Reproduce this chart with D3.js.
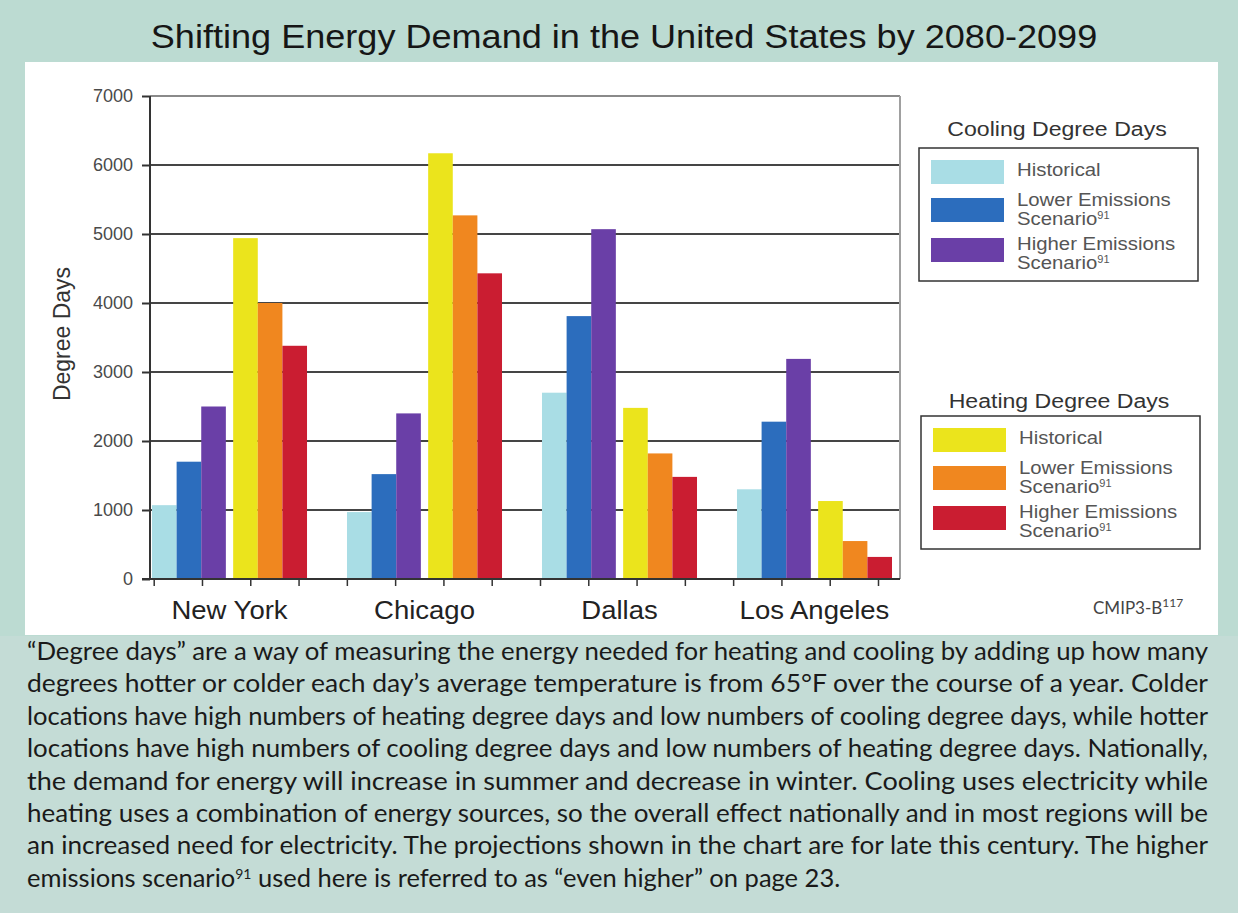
<!DOCTYPE html>
<html>
<head>
<meta charset="utf-8">
<script src="https://cdn.jsdelivr.net/npm/d3@7"></script>
<style>
  body { margin: 0; background: #bcdbd2; }
  svg { display: block; }
</style>
</head>
<body>
<div id="chart"></div>
<script>
var cities = ['New York', 'Chicago', 'Dallas', 'Los Angeles'];
var coolHistorical = [1070, 970, 2700, 1300];
var coolLower = [1700, 1520, 3810, 2280];
var coolHigher = [2500, 2400, 5070, 3190];
var heatHistorical = [4940, 6170, 2480, 1130];
var heatLower = [4000, 5270, 1820, 550];
var heatHigher = [3380, 4430, 1480, 320];
var yTicks = [0, 1000, 2000, 3000, 4000, 5000, 6000, 7000];

var scenarios = ['historical', 'lower', 'higher'];
var scenarioLabels = [['Historical'], ['Lower Emissions', 'Scenario^91'], ['Higher Emissions', 'Scenario^91']];
var coolColors = ['#a9dde5', '#2c6dbd', '#6a3fa7'];
var heatColors = ['#ebe41c', '#f0871f', '#ca1d31'];

var captionLines = [
  '\u201cDegree days\u201d are a way of measuring the energy needed for heating and cooling by adding up how many',
  'degrees hotter or colder each day\u2019s average temperature is from 65\u00b0F over the course of a year. Colder',
  'locations have high numbers of heating degree days and low numbers of cooling degree days, while hotter',
  'locations have high numbers of cooling degree days and low numbers of heating degree days. Nationally,',
  'the demand for energy will increase in summer and decrease in winter. Cooling uses electricity while',
  'heating uses a combination of energy sources, so the overall effect nationally and in most regions will be',
  'an increased need for electricity. The projections shown in the chart are for late this century. The higher',
  'emissions scenario^91 used here is referred to as \u201ceven higher\u201d on page 23.'
];

var width = 1238, height = 913;
var svg = d3.select('#chart').append('svg')
  .attr('width', width)
  .attr('height', height);

// backgrounds
svg.append('rect').attr('x', 0).attr('y', 0).attr('width', width).attr('height', height).attr('fill', '#bcdbd2');
svg.append('rect').attr('x', 0).attr('y', 636).attr('width', width).attr('height', height - 636).attr('fill', '#c4dcd6');
svg.append('rect').attr('x', 25).attr('y', 62).attr('width', 1193).attr('height', 573).attr('fill', '#ffffff');

// split "text^sup" into tspans
function richText(sel, str, supSize) {
  str.split(/(\^\d+)/).forEach(function(part) {
    if (!part) return;
    if (part[0] === '^') {
      sel.append('tspan').attr('baseline-shift', 'super').attr('font-size', supSize).text(part.slice(1));
    } else {
      sel.append('tspan').text(part);
    }
  });
}

// text slightly wider than tall, like the scanned figure
function stretched(parent, x, y) {
  return parent.append('text').attr('transform', 'translate(' + x + ',' + y + ') scale(1.1,1)');
}

stretched(svg, 624, 48)
  .attr('text-anchor', 'middle')
  .attr('font-family', 'Liberation Sans, Arial, sans-serif')
  .attr('font-size', 32.8)
  .attr('fill', '#161616')
  .text('Shifting Energy Demand in the United States by 2080-2099');

var y = d3.scaleLinear().domain([0, 7000]).range([579, 96]);
var x0 = d3.scaleBand().domain(cities).range([152, 892]).paddingInner(0.205);
var x1 = d3.scaleBand().domain(['cooling', 'heating']).range([0, x0.bandwidth()]).paddingInner(0.09);
var x2 = d3.scaleBand().domain(scenarios).range([0, x1.bandwidth()]);
var plotLeft = 150, plotRight = 900;

// gridlines
svg.append('g').selectAll('line').data(yTicks.filter(function(d) { return d > 0; }))
  .enter().append('line')
  .attr('x1', plotLeft).attr('x2', plotRight)
  .attr('y1', function(d) { return y(d); })
  .attr('y2', function(d) { return y(d); })
  .attr('stroke', function(d) { return d === 7000 ? '#8a8a8a' : '#454545'; })
  .attr('stroke-width', 2);

svg.append('line')
  .attr('x1', plotRight).attr('x2', plotRight)
  .attr('y1', y(7000)).attr('y2', y(0))
  .attr('stroke', '#a0a0a0').attr('stroke-width', 2);

// bars
var rows = cities.map(function(c, i) {
  return {
    city: c,
    cooling: [coolHistorical[i], coolLower[i], coolHigher[i]],
    heating: [heatHistorical[i], heatLower[i], heatHigher[i]]
  };
});

var groups = svg.append('g').selectAll('g').data(rows)
  .enter().append('g')
  .attr('transform', function(d) { return 'translate(' + x0(d.city) + ',0)'; });

[['cooling', coolColors], ['heating', heatColors]].forEach(function(kind) {
  groups.append('g')
    .attr('transform', 'translate(' + x1(kind[0]) + ',0)')
    .selectAll('rect').data(function(d) { return d[kind[0]]; })
    .enter().append('rect')
    .attr('x', function(d, i) { return x2(scenarios[i]); })
    .attr('width', x2.bandwidth())
    .attr('y', function(d) { return y(d); })
    .attr('height', function(d) { return y(0) - y(d); })
    .attr('fill', function(d, i) { return kind[1][i]; });
});

// y axis
var yAxis = svg.append('g')
  .attr('transform', 'translate(' + plotLeft + ',0)')
  .call(d3.axisLeft(y).tickValues(yTicks).tickFormat(d3.format('d')).tickSize(8).tickPadding(9));
yAxis.select('.domain').remove();
yAxis.selectAll('.tick line').attr('stroke', '#333').attr('stroke-width', 2);
yAxis.selectAll('.tick text')
  .attr('font-family', 'Liberation Sans, Arial, sans-serif')
  .attr('font-size', 18)
  .attr('fill', '#4a4a4a');
svg.append('line')
  .attr('x1', plotLeft).attr('x2', plotLeft)
  .attr('y1', y(7000)).attr('y2', y(0) + 1)
  .attr('stroke', '#333').attr('stroke-width', 2);

// x axis with minor ticks
var tickScale = d3.scaleLinear().domain([0, 15]).range([153.7, 878]);
var xAxis = svg.append('g')
  .attr('transform', 'translate(0,' + y(0) + ')')
  .call(d3.axisBottom(tickScale).tickValues(d3.range(16)).tickSize(7).tickFormat(''));
xAxis.select('.domain').remove();
xAxis.selectAll('.tick line').attr('stroke', '#333').attr('stroke-width', 1.5);
svg.append('line')
  .attr('x1', plotLeft - 8).attr('x2', plotRight)
  .attr('y1', y(0)).attr('y2', y(0))
  .attr('stroke', '#333').attr('stroke-width', 2);

cities.forEach(function(c) {
  stretched(svg, x0(c) + x0.bandwidth() / 2, 619)
    .attr('text-anchor', 'middle')
    .attr('font-family', 'Liberation Sans, Arial, sans-serif')
    .attr('font-size', 25)
    .attr('fill', '#222')
    .text(c);
});

svg.append('text')
  .attr('transform', 'translate(70,334) rotate(-90)')
  .attr('text-anchor', 'middle')
  .attr('font-family', 'Liberation Sans, Arial, sans-serif')
  .attr('font-size', 23)
  .attr('fill', '#333')
  .text('Degree Days');

// legends
function legend(title, colors, left, top, titleGap) {
  var g = svg.append('g');
  stretched(g, left + 138, top - titleGap)
    .attr('text-anchor', 'middle')
    .attr('font-family', 'Liberation Sans, Arial, sans-serif')
    .attr('font-size', 21)
    .attr('fill', '#333')
    .text(title);
  g.append('rect')
    .attr('x', left).attr('y', top).attr('width', 279).attr('height', 133)
    .attr('fill', 'none').attr('stroke', '#333').attr('stroke-width', 1.5);
  var rowTop = [12, 50, 90];
  var textY = [[28], [58, 77], [102, 121]];
  colors.forEach(function(col, i) {
    g.append('rect')
      .attr('x', left + 12).attr('y', top + rowTop[i])
      .attr('width', 73).attr('height', 24)
      .attr('fill', col);
    scenarioLabels[i].forEach(function(line, j) {
      var t = stretched(g, left + 98, top + textY[i][j])
        .attr('font-family', 'Liberation Sans, Arial, sans-serif')
        .attr('font-size', 18.5)
        .attr('fill', '#555');
      richText(t, line, 10);
    });
  });
}
legend('Cooling Degree Days', coolColors, 919, 148, 12);
legend('Heating Degree Days', heatColors, 921, 416, 8);

var src = svg.append('text')
  .attr('x', 1093).attr('y', 614)
  .attr('font-family', 'Lato, sans-serif')
  .attr('font-size', 17)
  .attr('fill', '#444');
richText(src, 'CMIP3-B^117', 12);

// caption
captionLines.forEach(function(line, i) {
  var t = svg.append('text')
    .attr('x', 27)
    .attr('y', 660 + i * 32.4)
    .attr('font-family', 'Lato, sans-serif')
    .attr('font-size', 25.5)
    .attr('fill', '#1a1a1a');
  if (i < captionLines.length - 1) {
    t.attr('textLength', 1181).attr('lengthAdjust', 'spacingAndGlyphs');
  }
  richText(t, line, 14);
});
</script>
</body>
</html>
